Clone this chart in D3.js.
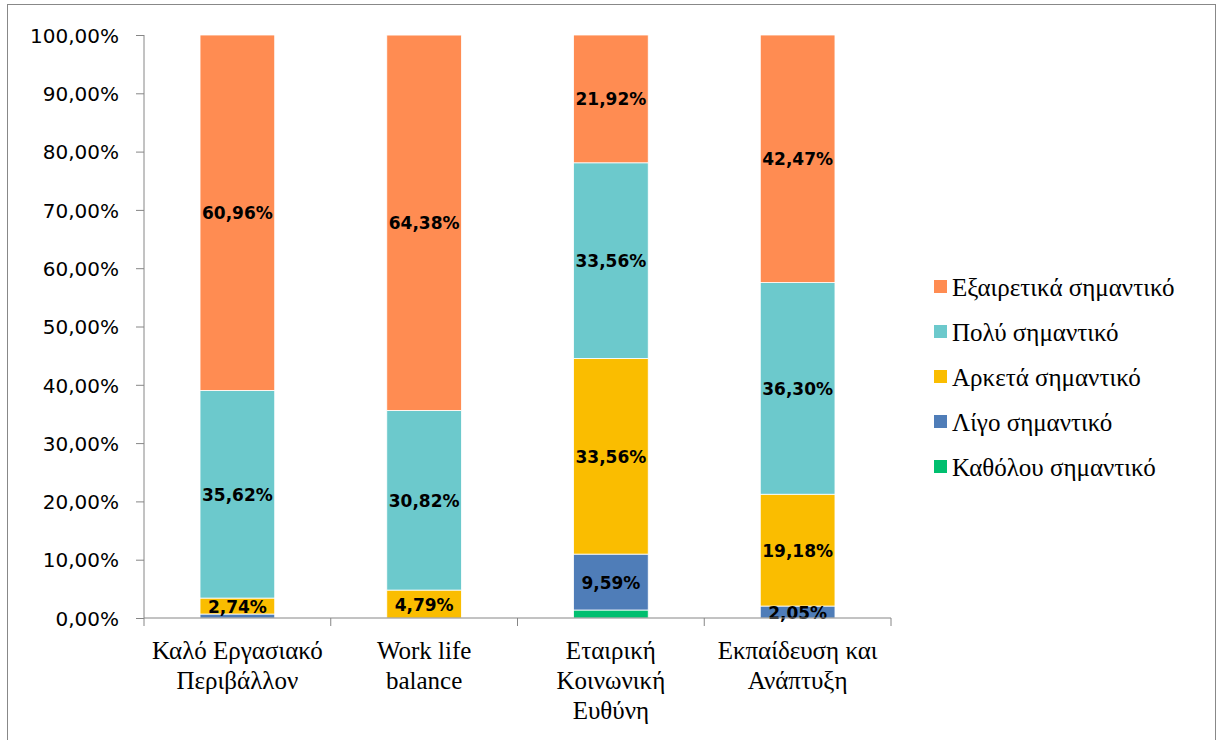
<!DOCTYPE html>
<html><head><meta charset="utf-8">
<script src="https://cdn.jsdelivr.net/npm/d3@7"></script>
<style>body{margin:0;background:#fff}</style>
</head><body><svg id="c" width="1218" height="740"></svg>
<script>
const categories = [["Καλό Εργασιακό","Περιβάλλον"],["Work life","balance"],["Εταιρική","Κοινωνική","Ευθύνη"],["Εκπαίδευση και","Ανάπτυξη"]];
const seriesNames = ["Καθόλου σημαντικό","Λίγο σημαντικό","Αρκετά σημαντικό","Πολύ σημαντικό","Εξαιρετικά σημαντικό"];
const kathólou = [0, 0, 1.37, 0];
const ligo = [0.68, 0, 9.59, 2.05];
const arketa = [2.74, 4.79, 33.56, 19.18];
const poly = [35.62, 30.82, 33.56, 36.30];
const exairetika = [60.96, 64.38, 21.92, 42.47];
const yTicks = [0,10,20,30,40,50,60,70,80,90,100];
const colors = ["#00BF6F","#4F7DB8","#FABD00","#6CC9CC","#FF8C52"];

const SERIF = "Liberation Serif, Tinos, Times New Roman, DejaVu Serif, serif";
const series = [kathólou, ligo, arketa, poly, exairetika];
const svg = d3.select("#c");
svg.append("rect").attr("x",7.5).attr("y",4.5).attr("width",1208).attr("height",740).attr("fill","none").attr("stroke","#888");

const x = d3.scaleBand().domain(d3.range(categories.length)).range([144,891]).paddingInner(0.6).paddingOuter(0.3);
const y = d3.scaleLinear().domain([0,100]).range([618,35]);

const table = categories.map((c,i)=>{const o={i};seriesNames.forEach((s,k)=>o[s]=series[k][i]);return o;});
const stacked = d3.stack().keys(seriesNames)(table);

const g = svg.append("g");
stacked.forEach((layer,k)=>{
  g.selectAll(null).data(layer).enter().append("rect")
   .attr("x",d=>x(d.data.i)).attr("width",x.bandwidth())
   .attr("y",d=>y(d[1])).attr("height",d=>Math.max(0,y(d[0])-y(d[1])))
   .attr("fill",colors[k]).attr("stroke",d=>d[1]-d[0]>0?"#fff":"none").attr("stroke-width",0.8);
});
const fmt = v => v.toFixed(2).replace(".",",")+"%";
stacked.forEach((layer,k)=>{
  g.selectAll(null).data(layer.filter(d=>d[1]-d[0]>=2)).enter().append("text")
   .attr("x",d=>x(d.data.i)+x.bandwidth()/2).attr("y",d=>y((d[0]+d[1])/2)+6.5)
   .attr("text-anchor","middle").style("font-family","'DejaVu Sans',sans-serif").style("font-weight","bold")
   .style("font-size","17px").attr("fill","#000").text(d=>fmt(d[1]-d[0]));
});

// y axis
const ya = svg.append("g").attr("transform","translate(144,0)").call(d3.axisLeft(y).tickValues(yTicks).tickSize(8).tickFormat(d=>d.toFixed(2).replace(".",",")+"%"));
ya.select(".domain").attr("stroke","#868686").attr("d","M0,35V618");
ya.selectAll(".tick line").attr("stroke","#868686");
ya.selectAll("text").style("font-family","'DejaVu Sans',sans-serif").style("font-size","20px").attr("fill","#000").attr("x",-25).attr("dy","0.36em");

// x axis
const xa = svg.append("g").attr("transform","translate(0,618)");
xa.append("line").attr("x1",144).attr("x2",891).attr("stroke","#868686");
const bounds = d3.range(categories.length+1).map(i=>144+i*(891-144)/categories.length);
xa.selectAll(null).data(bounds).enter().append("line").attr("x1",d=>d).attr("x2",d=>d).attr("y1",0).attr("y2",8).attr("stroke","#868686");
categories.forEach((c,i)=>{
  const t = xa.append("text").style("font-family",SERIF).attr("text-anchor","middle").style("font-size","25px").attr("fill","#000");
  c.forEach((line,j)=>t.append("tspan").attr("x",x(i)+x.bandwidth()/2).attr("y",41+j*30).text(line));
});

// legend
const leg = svg.append("g");
const order = d3.range(seriesNames.length).reverse();
order.forEach((k,j)=>{
  const yy = 287+j*45;
  leg.append("rect").attr("x",934).attr("y",yy-7).attr("width",13).attr("height",13).attr("fill",colors[k]);
  leg.append("text").style("font-family",SERIF).attr("x",952).attr("y",yy+9).style("font-size","25px").attr("fill","#000").text(seriesNames[k]);
});
</script></body></html>
